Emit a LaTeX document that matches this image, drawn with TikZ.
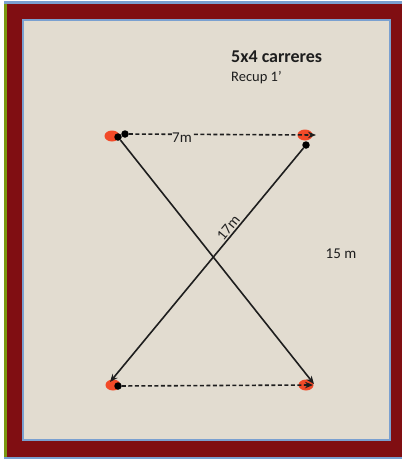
\documentclass[tikz,border=0pt]{standalone}
\usepackage{fontspec}
\setmainfont{Carlito}
\usetikzlibrary{arrows.meta,shapes.geometric}
\definecolor{sand}{RGB}{226,220,208}
\definecolor{frame}{RGB}{128,14,18}
\definecolor{edge}{RGB}{122,160,208}
\definecolor{cone}{RGB}{242,74,40}
\definecolor{ink}{RGB}{30,30,30}
\tikzset{
  cone/.style={ellipse,fill=cone,minimum width=15pt,minimum height=11pt,inner sep=0pt},
  dot/.style={circle,fill=black,minimum size=7.5pt,inner sep=0pt},
  run/.style={draw=ink,line width=1.6pt,-{Stealth[length=8pt,width=6.5pt]}},
  walk/.style={draw=ink,line width=1.6pt,dash pattern=on 4pt off 2.5pt,-{Stealth[length=8pt,width=6.5pt]}},
  lbl/.style={font=\fontsize{15}{17}\selectfont,text=ink,inner sep=1pt}
}
\begin{document}
\begin{tikzpicture}[x=1pt,y=-1pt]
\useasboundingbox (0,0) rectangle (402,459);
\fill[white] (0,0) rectangle (402,459);
\fill[edge] (4,1) rectangle (402,459);
\fill[olive!70!green] (4,4) rectangle (7,457);
\fill[frame] (7,4) rectangle (402,457);
\fill[sand,draw=edge,line width=1.5pt] (23,20) rectangle (390,440);
% title
\node[font=\bfseries\fontsize{18}{20}\selectfont,text=ink,anchor=west,inner sep=0pt] (title) at (231,57) {5x4 carreres};
\node[font=\fontsize{14.5}{16}\selectfont,text=ink,anchor=west,inner sep=0pt] (recup) at (231,78) {Recup 1’};
% cones
\node[cone] (c1) at (112,136) {};
\node[cone] (c2) at (305,135) {};
\node[cone] (c3) at (113,385) {};
\node[cone] (c4) at (306,385) {};
% black dots
\node[dot] (d1) at (118,137) {};
\node[dot] (d1b) at (125,134) {};
\node[dot] (d2) at (306,145) {};
\node[dot] (d3) at (118,386) {};
\coordinate (e2) at (316,135);
\coordinate (e3) at (110,382);
\coordinate (e4) at (314,384);
\coordinate (e4b) at (313,385);
% paths
\draw[walk] (d1b) -- (e2);
\node[lbl,fill=sand,inner sep=0.5pt] (l7) at (182,138) {7m};
\draw[walk] (d3) -- (e4b);
\draw[run] (d1) -- (e4);
\draw[run] (d2) -- node[lbl,sloped,above=0.5pt,pos=0.36] (l17) {17m} (e3);
\node[lbl] (l15) at (341,254) {15 m};
\end{tikzpicture}
\end{document}
